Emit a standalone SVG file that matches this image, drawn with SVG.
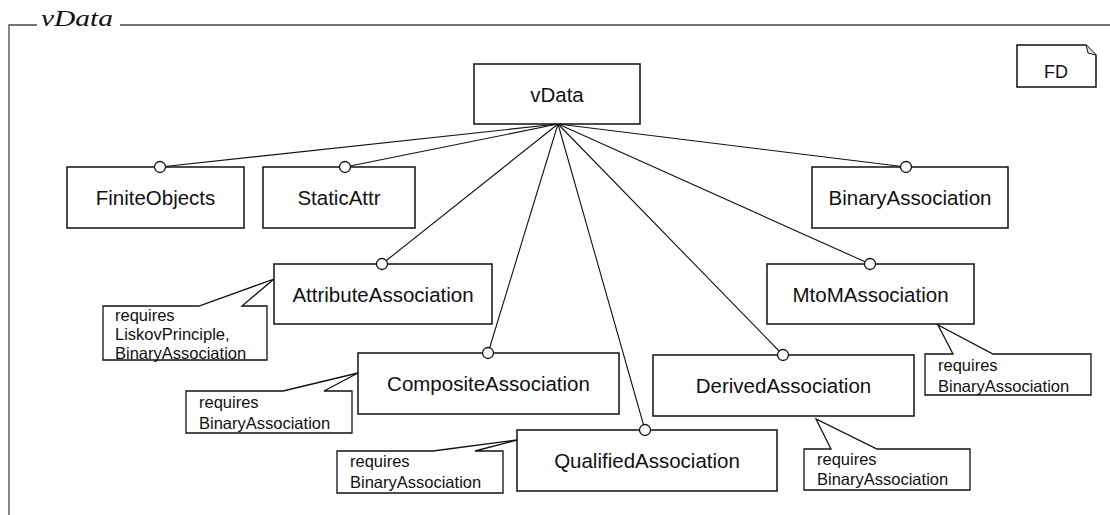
<svg xmlns="http://www.w3.org/2000/svg" width="1110" height="515" viewBox="0 0 1110 515">
  <style>
    .frame { fill: none; stroke: #444; stroke-width: 1.3; }
    .title { font-family: "Liberation Serif", "Times New Roman", serif; font-style: italic; font-size: 23px; fill: #111; }
    .box { fill: #fff; stroke: #111; stroke-width: 1.5; }
    .label { font-family: "Liberation Sans", Arial, sans-serif; font-size: 20.5px; fill: #111; text-anchor: middle; }
    .note { fill: #fff; stroke: #111; stroke-width: 1.3; stroke-linejoin: miter; }
    .ntext { font-family: "Liberation Sans", Arial, sans-serif; font-size: 16.5px; fill: #111; }
    .edge { stroke: #111; stroke-width: 1.1; fill: none; }
    .port { fill: #fff; stroke: #111; stroke-width: 1.3; }
  </style>

  <!-- package frame -->
  <g id="frame">
    <polyline class="frame" points="37,25 9,25 9,515"/>
    <line class="frame" x1="120" y1="25" x2="1110" y2="25"/>
    <text class="title" x="41" y="26" textLength="72" lengthAdjust="spacingAndGlyphs">vData</text>
  </g>

  <!-- FD tag -->
  <g id="fd">
    <path class="box" d="M1017,45 H1086 L1096,55 V87 H1017 Z"/>
    <path d="M1086,45 L1088,53 L1096,55" fill="#ddd" stroke="#111" stroke-width="1"/>
    <text class="label" x="1056" y="78" style="font-size:18px">FD</text>
  </g>

  <!-- connectors from the root feature -->
  <g id="connectors">
    <line class="edge" x1="558" y1="124" x2="160" y2="167"/>
    <line class="edge" x1="558" y1="124" x2="345" y2="167"/>
    <line class="edge" x1="558" y1="124" x2="906" y2="167"/>
    <line class="edge" x1="558" y1="124" x2="382" y2="264"/>
    <line class="edge" x1="558" y1="124" x2="488" y2="353"/>
    <line class="edge" x1="558" y1="124" x2="645" y2="430"/>
    <line class="edge" x1="558" y1="124" x2="783" y2="355"/>
    <line class="edge" x1="558" y1="124" x2="870" y2="264"/>
  </g>

  <g id="vData">
    <rect class="box" x="474" y="64" width="166" height="60"/>
    <text class="label" x="557" y="102">vData</text>
  </g>

  <g id="FiniteObjects">
    <rect class="box" x="67" y="167" width="177" height="61"/>
    <circle class="port" cx="160" cy="167" r="5.5"/>
    <text class="label" x="155.5" y="205">FiniteObjects</text>
  </g>

  <g id="StaticAttr">
    <rect class="box" x="263" y="167" width="152" height="61"/>
    <circle class="port" cx="345" cy="167" r="5.5"/>
    <text class="label" x="339" y="205">StaticAttr</text>
  </g>

  <g id="BinaryAssociation">
    <rect class="box" x="812" y="167" width="196" height="61"/>
    <circle class="port" cx="906" cy="167" r="5.5"/>
    <text class="label" x="910" y="205">BinaryAssociation</text>
  </g>

  <g id="AttributeAssociation">
    <rect class="box" x="274" y="264" width="218" height="60"/>
    <circle class="port" cx="382" cy="264" r="5.5"/>
    <text class="label" x="383" y="302">AttributeAssociation</text>
    <path class="note" d="M103,306 H199 L274,279 L242,306 H267 V360 H103 Z"/>
    <text class="ntext" x="115" y="321">requires</text>
    <text class="ntext" x="115" y="340">LiskovPrinciple,</text>
    <text class="ntext" x="115" y="359">BinaryAssociation</text>
  </g>

  <g id="CompositeAssociation">
    <rect class="box" x="358" y="353" width="261" height="61"/>
    <circle class="port" cx="488" cy="353" r="5.5"/>
    <text class="label" x="488.5" y="391">CompositeAssociation</text>
    <path class="note" d="M186,391 H283 L358,373 L324,391 H352 V433 H186 Z"/>
    <text class="ntext" x="199" y="408">requires</text>
    <text class="ntext" x="199" y="429">BinaryAssociation</text>
  </g>

  <g id="QualifiedAssociation">
    <rect class="box" x="517" y="430" width="260" height="61"/>
    <circle class="port" cx="645" cy="430" r="5.5"/>
    <text class="label" x="647" y="468">QualifiedAssociation</text>
    <path class="note" d="M337,451 H433 L517,440 L475,451 H503 V493 H337 Z"/>
    <text class="ntext" x="350" y="467">requires</text>
    <text class="ntext" x="350" y="488">BinaryAssociation</text>
  </g>

  <g id="DerivedAssociation">
    <rect class="box" x="653" y="355" width="261" height="61"/>
    <circle class="port" cx="783" cy="355" r="5.5"/>
    <text class="label" x="783.5" y="393">DerivedAssociation</text>
    <path class="note" d="M804,449 H831 L816,419 L877,449 H970 V490 H804 Z"/>
    <text class="ntext" x="817" y="465">requires</text>
    <text class="ntext" x="817" y="485">BinaryAssociation</text>
  </g>

  <g id="MtoMAssociation">
    <rect class="box" x="767" y="264" width="207" height="60"/>
    <circle class="port" cx="870" cy="264" r="5.5"/>
    <text class="label" x="870.5" y="302">MtoMAssociation</text>
    <path class="note" d="M925,354 H953 L938,325 L993,354 H1091 V395 H925 Z"/>
    <text class="ntext" x="938" y="371">requires</text>
    <text class="ntext" x="938" y="392">BinaryAssociation</text>
  </g>
</svg>
